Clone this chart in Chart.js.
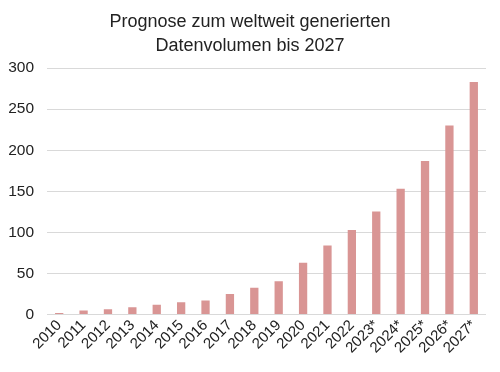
<!DOCTYPE html>
<html><head><meta charset="utf-8">
<script src="https://cdn.jsdelivr.net/npm/chart.js@4/dist/chart.umd.min.js"></script>
<style>html,body{margin:0;padding:0;background:#fff}#wrap{width:500px;height:372px}</style>
</head><body><div id="wrap"><canvas id="c" width="500" height="372"></canvas></div>
<script>
const categories = ["2010","2011","2012","2013","2014","2015","2016","2017","2018","2019","2020","2021","2022","2023*","2024*","2025*","2026*","2027*"];
const values = [2, 5, 6.5, 9, 12, 15, 17, 25, 32.5, 40.5, 63, 84, 103, 125.5, 153, 187, 230, 283];
const yTicks = [0, 50, 100, 150, 200, 250, 300];
const titleLines = ["Prognose zum weltweit generierten", "Datenvolumen bis 2027"];

new Chart(document.getElementById('c'), {
  type: 'bar',
  data: { labels: categories, datasets: [{ data: values, backgroundColor: '#d99594', categoryPercentage: 1, barPercentage: 0.34 }] },
  options: {
    responsive: false, animation: false,
    layout: { padding: { left: 0, right: 0, top: 0, bottom: 13 } },
    plugins: {
      legend: { display: false }, tooltip: { enabled: false },
      title: { display: true, text: titleLines, color: '#222', font: { family: 'Liberation Sans', size: 18, weight: 'normal', lineHeight: 1.28 }, padding: { top: 11, bottom: 11 } }
    },
    scales: {
      x: {
        grid: { display: false, drawTicks: false },
        border: { display: false },
        afterFit: (s) => { s.paddingLeft = 0; s.paddingRight = 14; },
        ticks: { color: '#222', font: { family: 'Liberation Sans', size: 15 }, maxRotation: 45, minRotation: 45, padding: 2, autoSkip: false }
      },
      y: {
        min: 0, max: 300,
        afterBuildTicks: (s) => { s.ticks = yTicks.map(v => ({ value: v })); },
        afterFit: (s) => { s.width = 47; },
        grid: { color: '#d9d9d9', drawTicks: false, lineWidth: 1 },
        border: { display: false },
        ticks: { color: '#222', font: { family: 'Liberation Sans', size: 15.5 }, padding: 13 }
      }
    }
  }
});
</script></body></html>
